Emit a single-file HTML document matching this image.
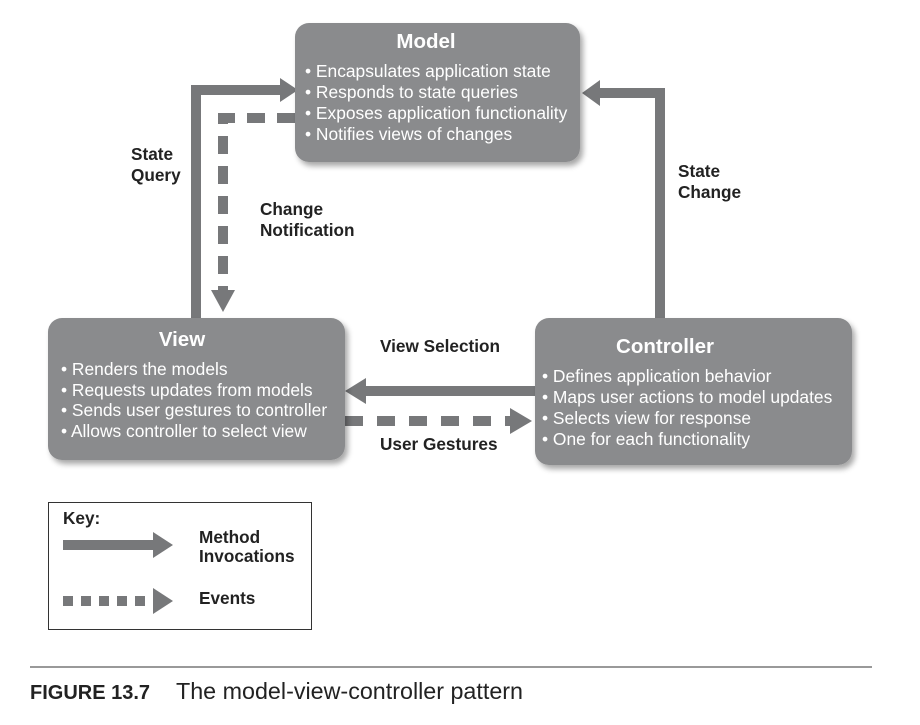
<!DOCTYPE html>
<html><head><style>
body{margin:0;background:#fff;}
svg text{font-family:"Liberation Sans",Arial,sans-serif;}
</style></head><body>
<svg width="920" height="720" viewBox="0 0 920 720">
<defs>
<filter id="sh" x="-10%" y="-10%" width="130%" height="130%"><feGaussianBlur in="SourceAlpha" stdDeviation="3"/><feOffset dx="3" dy="4"/><feComponentTransfer><feFuncA type="linear" slope="0.35"/></feComponentTransfer><feMerge><feMergeNode/><feMergeNode in="SourceGraphic"/></feMerge></filter>
</defs>
<g fill="none" stroke="#77787a" stroke-width="10">
<polyline points="196,318 196,90 282,90"/>
<polyline points="660,318 660,93 598,93"/>
<polyline points="295,118 223,118 223,292" stroke-dasharray="18,12"/>
<line x1="535" y1="391" x2="365" y2="391"/>
<line x1="345" y1="421" x2="512" y2="421" stroke-dasharray="18,14"/>
<line x1="63" y1="545" x2="158" y2="545"/>
<line x1="63" y1="601" x2="154" y2="601" stroke-dasharray="10,8"/>
</g>
<g fill="#77787a">
<polygon points="280,78 298,90 280,102"/>
<polygon points="600,80 582,93 600,106"/>
<polygon points="211,290 235,290 223,312"/>
<polygon points="366,378 345,391 366,404"/>
<polygon points="510,408 532,421 510,434"/>
<polygon points="153,532 173,545 153,558"/>
<polygon points="153,588 173,601 153,614"/>
</g>
<g fill="#8a8b8d" filter="url(#sh)">
<rect x="295" y="23" width="285" height="139" rx="14"/>
<rect x="48" y="318" width="297" height="142" rx="14"/>
<rect x="535" y="318" width="317" height="147" rx="14"/>
</g>
<g fill="#fff" font-size="17.4">
<text x="426" y="48" font-size="20.5" font-weight="bold" text-anchor="middle">Model</text>
<text x="305" y="77">• Encapsulates application state</text>
<text x="305" y="98">• Responds to state queries</text>
<text x="305" y="119">• Exposes application functionality</text>
<text x="305" y="140">• Notifies views of changes</text>
<text x="182" y="346" font-size="20.5" font-weight="bold" text-anchor="middle">View</text>
<text x="61" y="375">• Renders the models</text>
<text x="61" y="396">• Requests updates from models</text>
<text x="61" y="416">• Sends user gestures to controller</text>
<text x="61" y="437">• Allows controller to select view</text>
<text x="665" y="353" font-size="20.5" font-weight="bold" text-anchor="middle">Controller</text>
<text x="542" y="382">• Defines application behavior</text>
<text x="542" y="403">• Maps user actions to model updates</text>
<text x="542" y="424">• Selects view for response</text>
<text x="542" y="445">• One for each functionality</text>
</g>
<g fill="#222" font-size="17.2" font-weight="bold">
<text x="131" y="160">State</text><text x="131" y="181">Query</text>
<text x="260" y="215">Change</text><text x="260" y="236">Notification</text>
<text x="678" y="177">State</text><text x="678" y="198">Change</text>
<text x="380" y="352">View Selection</text>
<text x="380" y="450">User Gestures</text>
<text x="63" y="524">Key:</text>
<text x="199" y="543">Method</text><text x="199" y="562">Invocations</text>
<text x="199" y="604">Events</text>
</g>
<rect x="48.5" y="502.5" width="263" height="127" fill="none" stroke="#333" stroke-width="1"/>
<line x1="30" y1="667" x2="872" y2="667" stroke="#333" stroke-width="1"/>
<text x="30" y="699" font-size="20" font-weight="bold" fill="#222">FIGURE 13.7</text>
<text x="176" y="699" font-size="23.3" fill="#222">The model-view-controller pattern</text>
</svg>
</body></html>
